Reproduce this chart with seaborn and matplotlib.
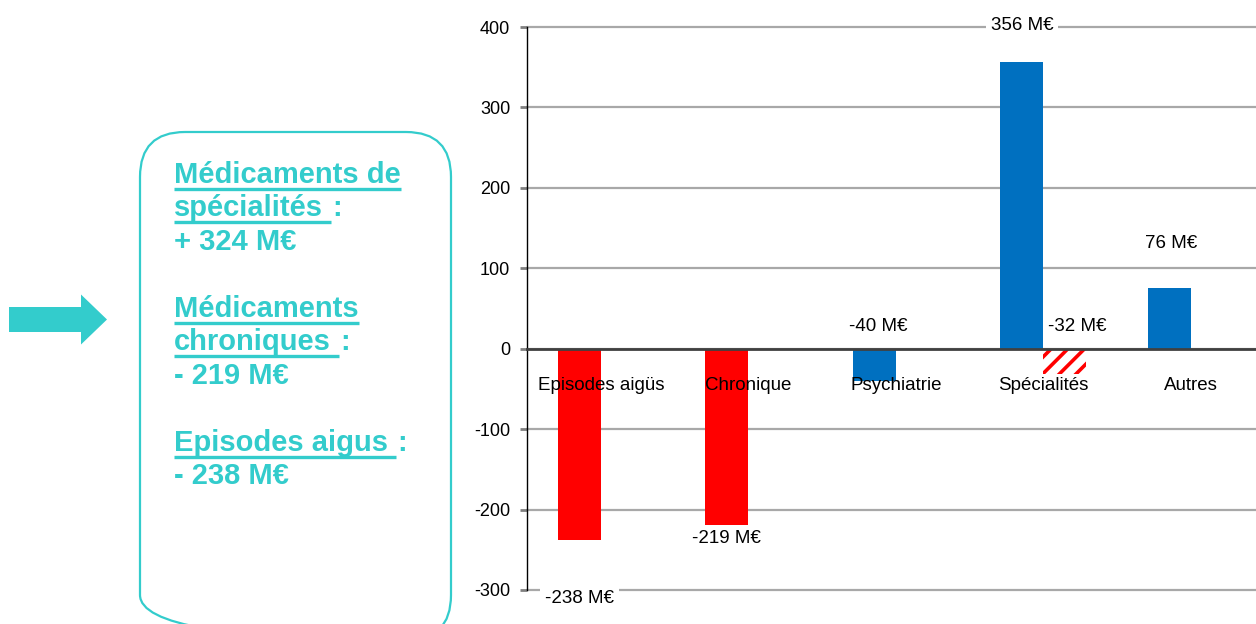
import numpy as np
import pandas as pd
import matplotlib
matplotlib.use("Agg")
import matplotlib.pyplot as plt
import seaborn as sns
from matplotlib.patches import FancyBboxPatch, FancyArrow
from matplotlib.ticker import FixedLocator

# ---------------- data ----------------
categories = ["Episodes aigüs", "Chronique", "Psychiatrie", "Spécialités", "Autres"]
evolution = [-238, -219, -40, 356, 76]
part_hachuree = [0, 0, 0, -32, 0]
series_names = ["Évolution", "Part hachurée"]
bar_colors = ["#FF0000", "#FF0000", "#0070C0", "#0070C0", "#0070C0"]
main_labels = ["-238 M€", "-219 M€", "-40 M€", "356 M€", "76 M€"]
hatch_labels = ["", "", "", "-32 M€", ""]
y_ticks = [-300, -200, -100, 0, 100, 200, 300, 400]

box_lines = ["Médicaments de", "spécialités", "+ 324 M€",
             "Médicaments", "chroniques", "- 219 M€",
             "Episodes aigus", "- 238 M€"]
box_underline = [True, True, False, True, True, False, True, False]
box_colon = [False, True, False, False, True, False, True, False]
box_slots = [0, 1, 2, 4, 5, 6, 8, 9]

# ---------------- style ----------------
sns.set_theme(style="white")
plt.rcParams["font.family"] = ["Liberation Sans", "DejaVu Sans"]
plt.rcParams["hatch.linewidth"] = 2.6
plt.rcParams["axes.unicode_minus"] = False

CYAN = "#33CCCC"
W, H = 1256, 624
fig = plt.figure(figsize=(W / 100, H / 100), dpi=100)

# overlay in pixel coordinates for the left panel
ax0 = fig.add_axes([0, 0, 1, 1])
ax0.set_xlim(0, W)
ax0.set_ylim(H, 0)
ax0.axis("off")

# chart axes
ax = fig.add_axes([527 / W, (H - 590) / H, 737.5 / W, 563 / H])

df = pd.DataFrame({
    "catégorie": categories * 2,
    "série": [series_names[0]] * len(categories) + [series_names[1]] * len(categories),
    "valeur": evolution + part_hachuree,
})

sns.barplot(data=df, x="catégorie", y="valeur", hue="série", order=categories,
            hue_order=series_names, palette=["#0070C0", "#FF0000"], width=0.58,
            errorbar=None, legend=False, saturation=1, ax=ax, zorder=3)

main_bars = ax.containers[0]
hatch_bars = ax.containers[1]
for p, c in zip(main_bars, bar_colors):
    p.set_facecolor(c)
    p.set_linewidth(0)
for p in hatch_bars:
    p.set_facecolor("white")
    p.set_edgecolor("#FF0000")
    p.set_hatch("//")
    p.set_linewidth(0)

ax.set_xlim(-0.5, 4.5)
ax.set_ylim(-300, 400)
ax.set_yticks(y_ticks)
ax.set_xlabel("")
ax.set_ylabel("")

ax.set_axisbelow(True)
ax.yaxis.grid(True, color="#a8a8a8", lw=1.6)
ax.xaxis.grid(False)
for gl in ax.yaxis.get_gridlines():
    gl.set_clip_on(False)

ax.spines["top"].set_visible(False)
ax.spines["right"].set_visible(False)
ax.spines["left"].set_color("black")
ax.spines["left"].set_linewidth(1.0)
ax.spines["bottom"].set_position(("data", 0))
ax.spines["bottom"].set_color("#404040")
ax.spines["bottom"].set_linewidth(2)
ax.spines["bottom"].set_zorder(4)

# category labels drawn on top of the bars (as in the reference)
ax.tick_params(axis="x", which="major", length=0, labelbottom=False)
for i, cat in enumerate(categories):
    ax.annotate(cat, xy=(i, 0), xytext=(0, -37 * 0.72), textcoords="offset points",
                ha="center", va="center", fontsize=13.5, color="black", zorder=7,
                annotation_clip=False)
ax.xaxis.set_minor_locator(FixedLocator([0.5, 1.5, 2.5, 3.5]))
ax.tick_params(axis="x", which="minor", length=5, width=1.5, color="#707070", direction="out")
ax.tick_params(axis="y", length=5, width=2, color="#808080", pad=7, labelsize=13,
               labelcolor="black", left=True, direction="out")

# data labels (offsets in pixels)
main_offsets = [(0, -58), (0, -14), (4, 54), (0, 37), (2, 44)]
hatch_offset = (13, 48)
bbox = dict(boxstyle="square,pad=0.25", fc="white", ec="none")
for p, lab, v, (dx, dy) in zip(main_bars, main_labels, evolution, main_offsets):
    cx = p.get_x() + p.get_width() / 2
    ax.annotate(lab, xy=(cx, v), xytext=(dx * 0.72, dy * 0.72), textcoords="offset points",
                ha="center", va="center", fontsize=13.5, color="black", bbox=bbox,
                annotation_clip=False, zorder=6)
for p, lab, v in zip(hatch_bars, hatch_labels, part_hachuree):
    if lab:
        cx = p.get_x() + p.get_width() / 2
        ax.annotate(lab, xy=(cx, v), xytext=(hatch_offset[0] * 0.72, hatch_offset[1] * 0.72),
                    textcoords="offset points", ha="center", va="center", fontsize=13.5,
                    color="black", annotation_clip=False, zorder=6)

# ---------------- left panel ----------------
ax0.add_patch(FancyArrow(9, 319.5, 98, 0, width=25, head_width=50, head_length=26,
                         length_includes_head=True, color=CYAN, lw=0))
ax0.add_patch(FancyBboxPatch((140, 132), 311, 508, boxstyle="round,pad=0,rounding_size=45",
                             fc="none", ec=CYAN, lw=1.6, clip_on=False))

fig.canvas.draw()
renderer = fig.canvas.get_renderer()
inv = ax0.transData.inverted()
fs = 21
space_px = 0.278 * fs * 100 / 72
x_left = 174
for txt, ul, colon, slot in zip(box_lines, box_underline, box_colon, box_slots):
    yb = 183 + slot * 33.5
    t = ax0.text(x_left, yb, txt, fontsize=fs, fontweight="bold", color=CYAN,
                 ha="left", va="baseline")
    bb = t.get_window_extent(renderer)
    (x0, _), (x1, _) = inv.transform([[bb.x0, bb.y0], [bb.x1, bb.y1]])
    right = x1 + (space_px if colon else 0)
    if ul:
        ax0.plot([x_left, right], [yb + 5.5, yb + 5.5], color=CYAN, lw=2.4,
                 solid_capstyle="butt")
    if colon:
        ax0.text(right + 1, yb, ":", fontsize=fs, fontweight="bold", color=CYAN,
                 ha="left", va="baseline")

fig.savefig("out.png", dpi=100)
